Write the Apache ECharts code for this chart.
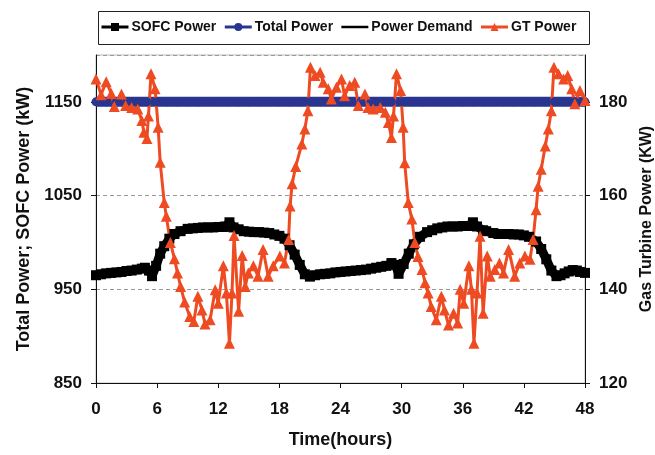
<!DOCTYPE html>
<html>
<head>
<meta charset="utf-8">
<script src="https://cdn.jsdelivr.net/npm/echarts@6/dist/echarts.min.js"></script>
<style>html,body{margin:0;padding:0;background:#fff;}#c{width:655px;height:455px;}</style>
</head>
<body>
<div id="c"></div>
<script>
// ---- data ----
var xTicks = [0, 6, 12, 18, 24, 30, 36, 42, 48];
var leftTicks = [850, 950, 1050, 1150];
var rightTicks = [120, 140, 160, 180];

var hourTime = [0,1,2,3,4,5,6,7,8,9,10,11,12,13,14,15,16,17,18,19,20,21,22,23,24,25,26,27,28,29,30,31,32,33,34,35,36,37,38,39,40,41,42,43,44,45,46,47,48];
var totalPower = [1150,1150,1150,1150,1150,1150,1150,1150,1150,1150,1150,1150,1150,1150,1150,1150,1150,1150,1150,1150,1150,1150,1150,1150,1150,1150,1150,1150,1150,1150,1150,1150,1150,1150,1150,1150,1150,1150,1150,1150,1150,1150,1150,1150,1150,1150,1150,1150,1150];
var powerDemand = [1150,1150,1150,1150,1150,1150,1150,1150,1150,1150,1150,1150,1150,1150,1150,1150,1150,1150,1150,1150,1150,1150,1150,1150,1150,1150,1150,1150,1150,1150,1150,1150,1150,1150,1150,1150,1150,1150,1150,1150,1150,1150,1150,1150,1150,1150,1150,1150,1150];

var sofcTime = [0,0.5,1,1.5,2,2.5,3,3.5,4,4.5,4.8,5.2,5.5,5.9,6.3,6.7,7.2,7.7,8.3,9,9.5,10,10.5,11,11.5,12,12.5,12.7,13.1,13.5,14,14.5,15,15.5,16,16.5,17,17.5,18,18.5,19,19.5,20,20.5,21,21.5,22,22.5,23,23.5,24,24.5,25,25.5,26,26.5,27,27.5,28,28.5,29,29.4,29.7,30.2,30.7,31.2,31.8,32.5,33,33.5,34,34.5,35,35.5,36,36.5,37,37.4,38,38.3,39,39.5,40,40.5,41,41.5,42,42.5,43.2,43.7,44.2,44.7,45.2,45.6,46,46.4,46.8,47.2,47.5,48];
var sofcPower = [965,966,967,967.5,968,968.5,969.5,970,971,972,973,970,964,975,988,996,1004,1009,1012,1014.5,1015,1015.5,1016,1016,1016,1016.5,1016.5,1017,1021.5,1016,1014,1012,1011.5,1011,1011,1010.5,1010,1008.5,1007,1004,997,987,976,966,963.5,965,966,966.5,967,968,968.5,969,969.5,970,970.5,971,972,973,974,975,978,976,966.5,977,988,998,1006,1011,1013,1015,1016,1017,1017,1017,1017.5,1017.5,1021.5,1017,1013,1012,1010,1009,1009,1009,1008.5,1008.5,1007.5,1006,1001,993,982,970,964,965,967,969,970.5,970,968.5,967.5];

var gtTime = [0,0.5,1.0,1.5,1.8,2.5,2.9,3.5,4.1,4.5,4.7,5.0,5.15,5.4,5.8,6.1,6.3,6.7,6.9,7.3,7.7,8.0,8.3,8.7,9.2,9.6,10.0,10.4,10.7,11.2,11.7,12.0,12.5,12.8,13.1,13.35,13.55,14.0,14.35,14.65,14.95,15.45,15.9,16.4,16.9,17.4,18.05,18.5,18.9,19.05,19.25,19.6,20.2,20.5,20.8,21.05,21.5,22.0,22.3,22.8,23.1,23.6,24.1,24.4,24.9,25.4,25.75,26.4,26.7,27.2,27.9,28.4,28.7,29.0,29.2,29.5,29.9,30.15,30.3,30.65,31.0,31.3,31.6,32.0,32.3,32.6,32.9,33.4,33.9,34.2,34.6,35.1,35.5,35.75,36.1,36.6,36.85,37.1,37.4,37.7,38.0,38.4,38.7,39.15,39.6,40.0,40.5,41.1,41.6,42.1,42.6,42.9,43.2,43.4,43.7,44.1,44.4,44.7,44.95,45.4,45.9,46.3,46.7,47.0,47.5,48.0];
var gtPower = [184.9,181.5,184.3,181.8,179,181.7,179.2,178.8,178.5,176,173.5,172.2,177,186,182.8,174.6,167.1,158.5,155.6,150,146.5,143.5,140.6,137.3,134.2,133.1,138.5,135.6,132.6,133.5,139.9,137,145,139.2,128.5,139.2,151.5,135.3,147.2,140.6,143.5,145,142.8,148.5,142.8,145,147.1,145.6,150.6,157.8,162.5,166.2,171,174.2,178.1,187.4,185.6,186.3,184.2,182.8,180.6,183.1,184.9,181.3,183.5,184.2,179.2,181.7,178.8,178.5,178.8,177.8,175.6,172.4,177,186,182.4,174.6,167,158.5,155,150,147,144.2,141.4,139.2,136.3,133.5,138.5,135.6,132.4,134.9,132.8,140,137,145,140,128.5,139.2,151.3,134.9,147.1,142.8,144.2,145.6,143.5,148.5,142.8,145.6,147.1,146.4,150.6,157,162,165.6,170.6,174.2,178.1,187.4,186,184.9,185.6,182.8,179.6,182.4,180.3];

function pairs(xs, ys) { return xs.map(function (x, i) { return [x, ys[i]]; }); }
function plain(v) { return String(v); }

var FONT = '"Liberation Sans", Arial, sans-serif';
var ORANGE = '#EE4B22';
var BLUE = '#2A3590';

var chart = echarts.init(document.getElementById('c'), null, { renderer: 'canvas' });
chart.setOption({
  animation: false,
  backgroundColor: '#fff',
  textStyle: { fontFamily: FONT },
  grid: { left: 96, right: 70, top: 55, bottom: 72, outerBoundsMode: 'none', containLabel: false,
          show: true, borderColor: '#bbb', borderWidth: 1, backgroundColor: 'transparent' },
  graphic: [{
    type: 'rect', left: 96, top: 9, shape: { width: 491, height: 33 },
    style: { fill: 'none', stroke: '#222', lineWidth: 1 }, z: 100
  }],
  legend: {
    left: 100, top: 20, padding: 0, itemGap: 7, itemWidth: 27, itemHeight: 10,
    textStyle: { fontFamily: FONT, fontWeight: 'bold', fontSize: 14, color: '#111', padding: [0, 0, 0, -2] },
    data: [
      { name: 'SOFC Power', lineStyle: { width: 3 } },
      { name: 'Total Power', lineStyle: { width: 3 } },
      { name: 'Power Demand', lineStyle: { width: 2.5 }, itemStyle: { opacity: 0 } },
      { name: 'GT Power', lineStyle: { width: 3 } }
    ]
  },
  xAxis: {
    type: 'value', min: 0, max: 48, interval: 6,
    name: 'Time(hours)', nameLocation: 'middle', nameGap: 48,
    nameTextStyle: { fontFamily: FONT, fontWeight: 'bold', fontSize: 18, color: '#111' },
    axisLine: { lineStyle: { color: '#111', width: 1 } },
    axisTick: { show: true, length: 5, inside: false, lineStyle: { color: '#111' } },
    axisLabel: { margin: 18, fontFamily: FONT, fontWeight: 'bold', fontSize: 17, color: '#111', formatter: plain },
    splitLine: { show: false }
  },
  yAxis: [{
    type: 'value', min: 850, max: 1200, interval: 100, position: 'left',
    name: 'Total Power; SOFC Power (kW)', nameLocation: 'middle', nameGap: 56, nameRotate: 90,
    nameTextStyle: { fontFamily: FONT, fontWeight: 'bold', fontSize: 18, color: '#111' },
    axisLine: { show: true, lineStyle: { color: '#111', width: 1 } },
    axisTick: { show: true, length: 5, lineStyle: { color: '#111' } },
    axisLabel: { margin: 14, showMaxLabel: false, fontFamily: FONT, fontWeight: 'bold', fontSize: 17, color: '#111', formatter: plain },
    splitLine: { show: true, lineStyle: { color: '#999', type: [4, 3], width: 1 } }
  }, {
    type: 'value', min: 120, max: 190, interval: 20, position: 'right',
    name: 'Gas Turbine Power (KW)', nameLocation: 'middle', nameGap: 40, nameRotate: 90,
    nameTextStyle: { fontFamily: FONT, fontWeight: 'bold', fontSize: 16, color: '#111' },
    axisLine: { show: true, lineStyle: { color: '#111', width: 1 } },
    axisTick: { show: true, length: 5, lineStyle: { color: '#111' } },
    axisLabel: { margin: 14, showMaxLabel: false, fontFamily: FONT, fontWeight: 'bold', fontSize: 17, color: '#111', formatter: plain },
    splitLine: { show: false }
  }],
  series: [{
    name: 'Power Demand', type: 'line', yAxisIndex: 0,
    data: pairs(hourTime, powerDemand),
    symbol: 'none', lineStyle: { color: '#000', width: 2 }, itemStyle: { color: '#000' }
  }, {
    name: 'Total Power', type: 'line', yAxisIndex: 0,
    data: pairs(hourTime, totalPower),
    symbol: 'circle', symbolSize: 9, showAllSymbol: true,
    lineStyle: { color: BLUE, width: 10 }, itemStyle: { color: BLUE }
  }, {
    name: 'SOFC Power', type: 'line', yAxisIndex: 0,
    data: pairs(sofcTime, sofcPower),
    symbol: 'rect', symbolSize: 10, showAllSymbol: true,
    lineStyle: { color: '#000', width: 9 }, itemStyle: { color: '#000' }
  }, {
    name: 'GT Power', type: 'line', yAxisIndex: 1,
    data: pairs(gtTime, gtPower),
    symbol: 'triangle', symbolSize: 11, showAllSymbol: true,
    lineStyle: { color: ORANGE, width: 3 }, itemStyle: { color: ORANGE }
  }]
});
</script>
</body>
</html>
